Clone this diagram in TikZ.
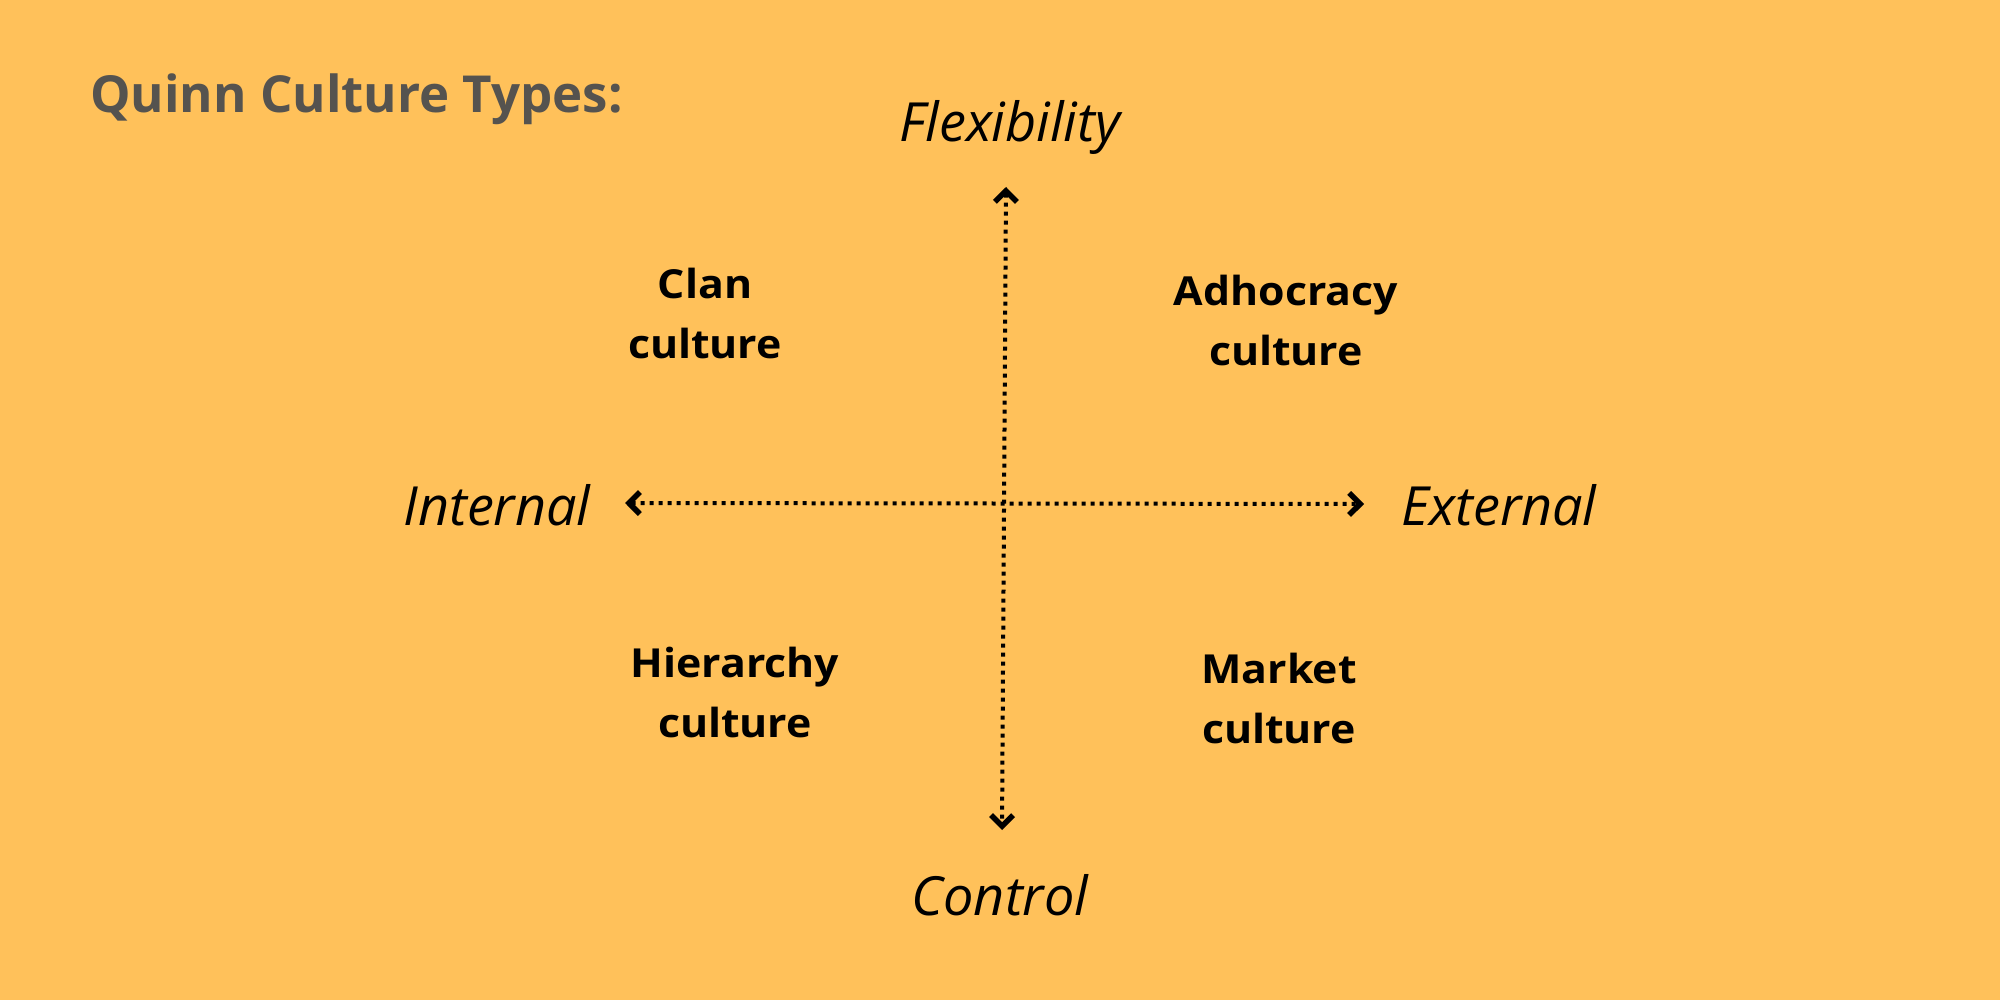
\documentclass[tikz,border=0pt]{standalone}
\usepackage{fontspec}
\setmainfont{Open Sans}
\newfontfamily\hand{Open Sans Italic}
\newfontfamily\quadfont[FakeStretch=1.07]{Open Sans}
\usetikzlibrary{arrows.meta}
\definecolor{bg}{HTML}{FFC15A}
\definecolor{titlegray}{HTML}{55534F}
\tikzset{
  quad/.style={font=\quadfont\bfseries\fontsize{40}{60}\selectfont, align=center, text=black, inner sep=0pt},
  axislabel/.style={font=\hand\fontsize{54}{60}\selectfont, text=black, inner sep=0pt},
  axisboth/.style={line width=4pt, dash pattern=on 4pt off 5pt, {Straight Barb[length=11pt,width=22pt,line width=5.5pt]}-{Straight Barb[length=11pt,width=22pt,line width=5.5pt]}}
}
\begin{document}
\begin{tikzpicture}[x=1pt,y=-1pt]
\fill[bg] (0,0) rectangle (2000,1000);
\useasboundingbox (0,0) rectangle (2000,1000);
\node[anchor=west, inner sep=0pt, text=titlegray, font=\bfseries\fontsize{51}{60}\selectfont] (title) at (90,99) {Quinn Culture Types:};
\coordinate (top) at (1006,187);
\coordinate (bot) at (1002,830);
\coordinate (left) at (625,503);
\coordinate (right) at (1364,504);
\draw[axisboth] (top) -- (bot);
\draw[axisboth] (left) -- (right);
\node[axislabel] (flex) at (1010,127) {Flexibility};
\node[axislabel] (ctrl) at (1000,895) {Control};
\node[axislabel] (int) at (497,505) {Internal};
\node[axislabel] (ext) at (1499,505) {External};
\node[quad] (clan) at (705,314) {Clan\\culture};
\node[quad] (adho) at (1286,320) {Adhocracy\\culture};
\node[quad] (hier) at (735,692) {Hierarchy\\culture};
\node[quad] (mark) at (1279,698) {Market\\culture};
\end{tikzpicture}
\end{document}
